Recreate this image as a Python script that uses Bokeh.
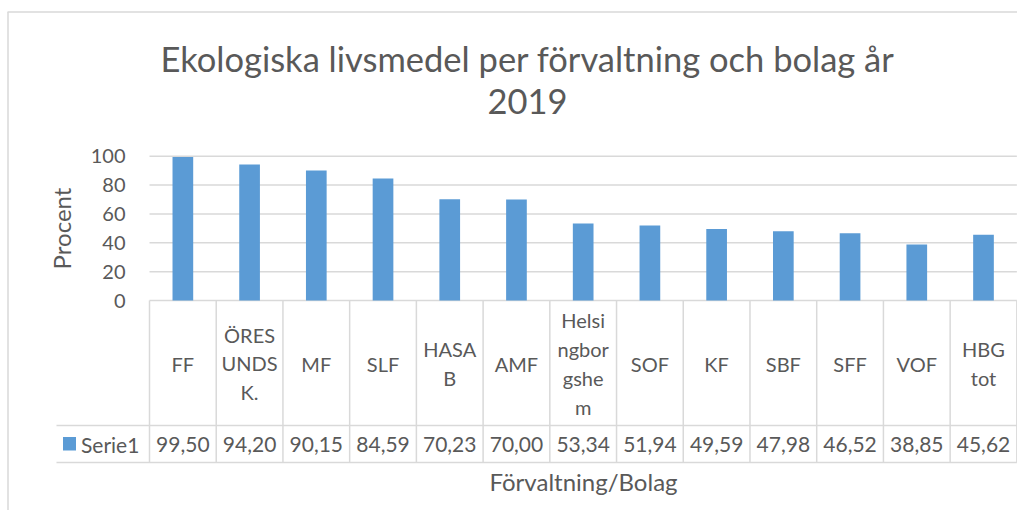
import math
from bokeh.plotting import figure
from bokeh.models import Range1d
from bokeh.core.properties import value
from bokeh.embed import file_html
from bokeh.resources import INLINE

# ---------------- data ----------------
categories = ["FF", "ÖRESUNDSK.", "MF", "SLF", "HASAB", "AMF", "Helsingborgshem",
              "SOF", "KF", "SBF", "SFF", "VOF", "HBG tot"]
category_labels = ["FF", "ÖRES\nUNDS\nK.", "MF", "SLF", "HASA\nB", "AMF",
                   "Helsi\nngbor\ngshe\nm", "SOF", "KF", "SBF", "SFF", "VOF", "HBG\ntot"]
values = [99.50, 94.20, 90.15, 84.59, 70.23, 70.00, 53.34, 51.94, 49.59, 47.98, 46.52, 38.85, 45.62]
y_ticks = [0, 20, 40, 60, 80, 100]
series_name = "Serie1"
title_line1 = "Ekologiska livsmedel per förvaltning och bolag år"
title_line2 = "2019"
x_title = "Förvaltning/Bolag"
y_title = "Procent"

# ---------------- layout helpers (page pixel -> data) ----------------
ORIGIN = 1       # page px where the figure canvas starts
W, H = 1017, 510
PX_CAT = 66.72   # px per category column
X0 = 150.0       # page x of first column's left edge
PY = 1.443       # px per percent unit
Y0 = 301.0       # page y of value 0


def dx(px):
    return (px - X0) / PX_CAT


def dy(py):
    return (Y0 - py) / PY


FONT = value("Lato")
TXT = "#595959"
GRID = "#d9d9d9"
BAR = "#5b9bd5"

p = figure(width=W, height=H, output_backend="svg", toolbar_location=None,
           x_range=Range1d(dx(ORIGIN), dx(ORIGIN + W)),
           y_range=Range1d(dy(ORIGIN + H), dy(ORIGIN)),
           min_border=0, x_axis_location=None, y_axis_location=None)
p.outline_line_color = None
p.grid.visible = False
p.background_fill_color = "white"
p.border_fill_color = "white"

n = len(values)
xc = [i + 0.5 for i in range(n)]

# chart area border (top and left edges visible)
p.segment(x0=[dx(8), dx(8.5)], y0=[dy(12.5), dy(12.5)], x1=[dx(ORIGIN + W), dx(8.5)],
          y1=[dy(12.5), dy(ORIGIN + H)], line_color=GRID, line_width=1.5)

# horizontal gridlines
p.segment(x0=[0] * len(y_ticks), y0=y_ticks, x1=[n] * len(y_ticks), y1=y_ticks,
          line_color=GRID, line_width=1.5)

# y tick labels
p.text(x=[dx(126)] * len(y_ticks), y=y_ticks, text=[str(t) for t in y_ticks],
       text_align="right", text_baseline="middle", text_font=FONT,
       text_font_size="20px", text_color=TXT)

# y axis title
p.text(x=[dx(62)], y=[dy(229)], text=[y_title], angle=math.pi / 2,
       text_align="center", text_baseline="middle", text_font=FONT,
       text_font_size="24px", text_color=TXT)

# bars
p.vbar(x=xc, top=values, bottom=0, width=0.31, fill_color=BAR, line_color=None)

# data table grid
xs = list(range(n + 1))
p.segment(x0=xs, y0=[0] * (n + 1), x1=xs, y1=[dy(463)] * (n + 1),
          line_color=GRID, line_width=1.5)
p.segment(x0=[dx(57), dx(57)], y0=[dy(426), dy(463)], x1=[n, n], y1=[dy(426), dy(463)],
          line_color=GRID, line_width=1.5)

# category labels
p.text(x=xc, y=[dy(364)] * n, text=category_labels, text_align="center",
       text_baseline="middle", text_font=FONT, text_font_size="20px",
       text_color=TXT, text_line_height=1.2)

# value labels
val_txt = [f"{v:.2f}".replace(".", ",") for v in values]
p.text(x=xc, y=[dy(444.5)] * n, text=val_txt, text_align="center",
       text_baseline="middle", text_font=FONT, text_font_size="21px", text_color=TXT)

# legend key in data table
p.quad(left=[dx(63.5)], right=[dx(76.5)], top=[dy(437.5)], bottom=[dy(451)],
       fill_color=BAR, line_color=None)
p.text(x=[dx(81.5)], y=[dy(444.5)], text=[series_name], text_align="left",
       text_baseline="middle", text_font=FONT, text_font_size="21px", text_color=TXT)

# x axis title
p.text(x=[dx(584)], y=[dy(482)], text=[x_title], text_align="center",
       text_baseline="middle", text_font=FONT, text_font_size="24px", text_color=TXT)

# chart title
p.text(x=[dx(528), dx(528)], y=[dy(59), dy(102)], text=[title_line1, title_line2],
       text_align="center", text_baseline="middle", text_font=FONT,
       text_font_size="34.5px", text_color=TXT)

open("out.html", "w").write(file_html(p, INLINE))
